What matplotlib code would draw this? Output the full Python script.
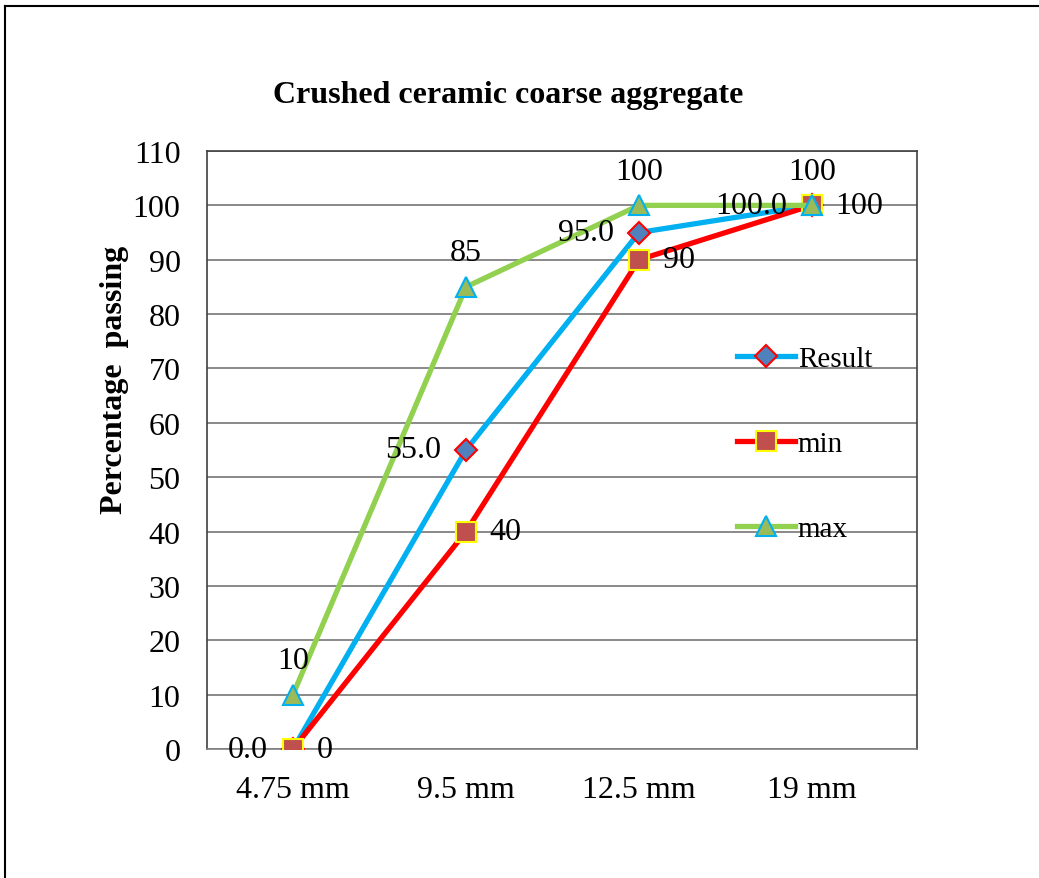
import matplotlib.pyplot as plt
from matplotlib.lines import Line2D

plt.rcParams['font.family'] = 'Liberation Serif'

sizes = ['4.75 mm', '9.5 mm', '12.5 mm', '19 mm']
result = [0.0, 55.0, 95.0, 100.0]
min_vals = [0, 40, 90, 100]
max_vals = [10, 85, 100, 100]

fig = plt.figure(figsize=(10.39, 8.79), dpi=100)
ax = fig.add_axes([207/1039, 1 - 750/879, 710/1039, 598/879])

x = list(range(len(sizes)))

ax.plot(x, result, color='#00B0F0', lw=3.8, marker='D', ms=11,
        mfc='#4F81BD', mec='#FF0000', mew=1.5, label='Result', zorder=3)
ax.plot(x, min_vals, color='#FF0000', lw=3.8, marker='s', ms=14,
        mfc='#C0504D', mec='#FFFF00', mew=1.5, label='min', zorder=4)
ax.plot(x, max_vals, color='#92D050', lw=3.8, marker='^', ms=15,
        mfc='#9BBB59', mec='#00B0F0', mew=1.5, label='max', zorder=5)

# data labels
fs = 23
for i, v in enumerate(result):
    ax.annotate(f'{v:.1f}', (i, v), xytext=(-18, 0), textcoords='offset points',
                ha='right', va='center', fontsize=fs, zorder=6)
for i, v in enumerate(min_vals):
    ax.annotate(f'{v}', (i, v), xytext=(17, 0), textcoords='offset points',
                ha='left', va='center', fontsize=fs, zorder=6)
for i, v in enumerate(max_vals):
    ax.annotate(f'{v}', (i, v), xytext=(0, 14), textcoords='offset points',
                ha='center', va='bottom', fontsize=fs, zorder=6)

ax.set_xlim(-0.497, 3.607)
ax.set_ylim(0, 110)
ax.set_yticks(range(0, 111, 10))
ax.set_xticks(x)
ax.set_xticklabels(sizes)
ax.tick_params(axis='both', labelsize=fs, length=0)
ax.tick_params(axis='y', pad=19)
ax.tick_params(axis='x', pad=19)
ax.yaxis.grid(True, color='#808080', lw=1.3)
ax.set_axisbelow(True)
for s in ax.spines.values():
    s.set_color('#404040')
    s.set_linewidth(1.2)
ax.spines['bottom'].set_color('#808080')

ax.set_ylabel('Percentage  passing', fontsize=fs, fontweight='bold')
ax.yaxis.set_label_coords(-0.11, 0.619)
fig.text(508/1039, 1 - 95/879, 'Crushed ceramic coarse aggregate', ha='center',
         va='center', fontsize=fs, fontweight='bold')

handles = [
    Line2D([], [], color='#00B0F0', lw=3.8, marker='D', ms=11, mfc='#4F81BD',
           mec='#FF0000', mew=1.5),
    Line2D([], [], color='#FF0000', lw=3.8, marker='s', ms=14, mfc='#C0504D',
           mec='#FFFF00', mew=1.5),
    Line2D([], [], color='#92D050', lw=3.8, marker='^', ms=15, mfc='#9BBB59',
           mec='#00B0F0', mew=1.5),
]
ax.legend(handles, ['Result', 'min', 'max'], loc='center left',
          bbox_to_anchor=(0.746, 0.51), frameon=False, fontsize=21,
          labelspacing=2.0, handlelength=2.0, handletextpad=0.1,
          borderpad=0, borderaxespad=0)

# outer border (top and left edges only visible)
fig.add_artist(Line2D([5/1039, 1], [1 - 7/879, 1 - 7/879], color='black', lw=1.5,
                      transform=fig.transFigure))
fig.add_artist(Line2D([5/1039, 5/1039], [0, 1 - 7/879], color='black', lw=1.5,
                      transform=fig.transFigure))

fig.savefig('out.png', dpi=100)
